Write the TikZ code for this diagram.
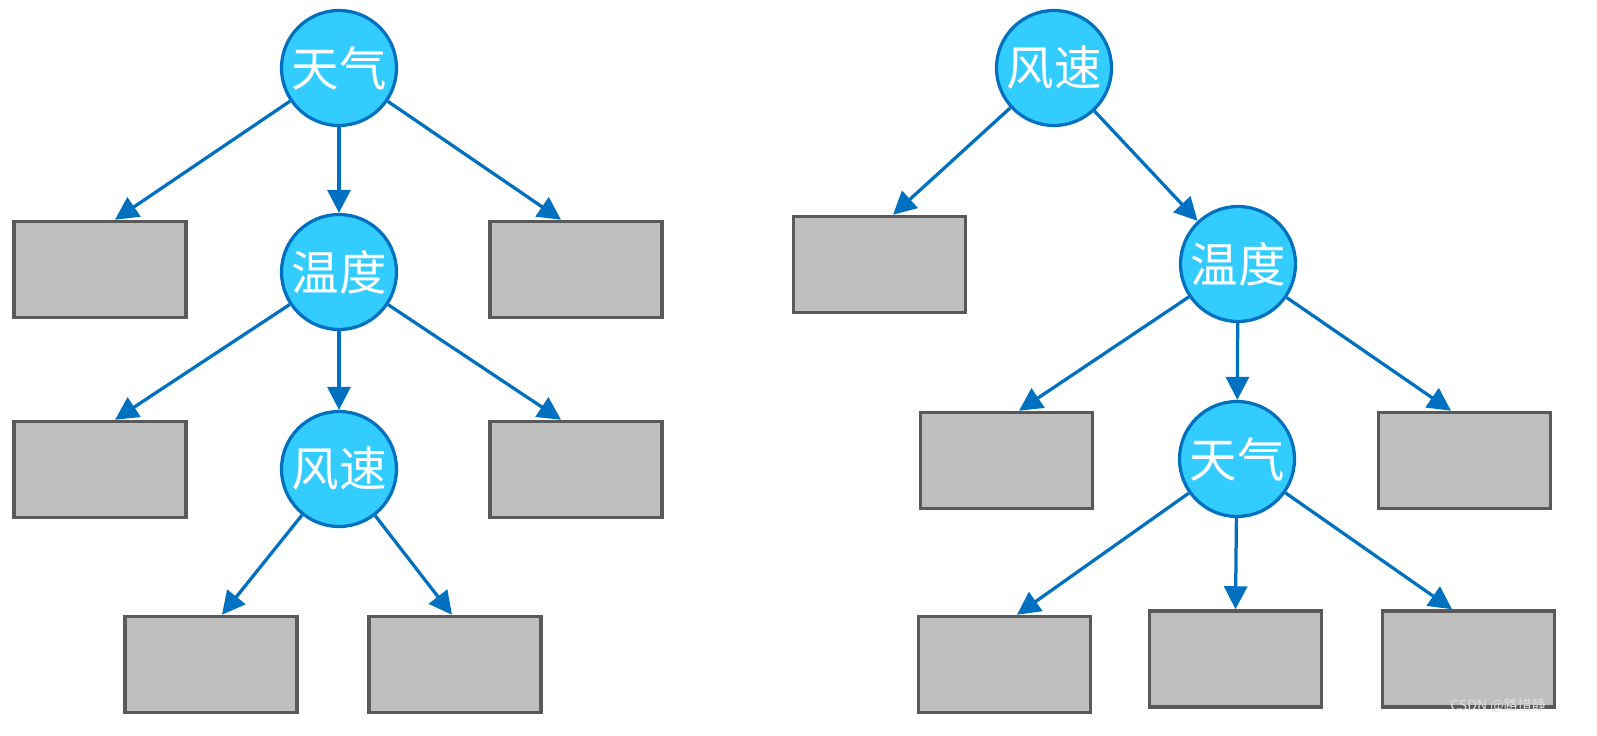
\documentclass[tikz,border=0pt]{standalone}
\usepackage{fontspec}
\newfontfamily\cjk{Noto Sans CJK SC}
\usetikzlibrary{arrows.meta,calc}
\definecolor{nodeblue}{HTML}{33CCFF}
\definecolor{lineblue}{HTML}{0070C0}
\definecolor{boxgray}{HTML}{BFBFBF}
\definecolor{boxedge}{HTML}{595959}
\tikzset{
  attr/.style={circle,draw=lineblue,fill=nodeblue,line width=0.065cm,
    minimum size=2.3cm,inner sep=0pt,text=white,font=\cjk\fontsize{27}{27}\selectfont},
  leaf/.style={rectangle,draw=boxedge,fill=boxgray,line width=0.07cm,
    minimum width=3.44cm,minimum height=1.92cm},
  branch/.style={draw=lineblue,line width=0.065cm,-{Triangle[length=0.46cm,width=0.46cm]}}
}
\begin{document}
\begin{tikzpicture}[x=0.02cm,y=-0.02cm]
\useasboundingbox (0,0) rectangle (1597,736);
% left tree
\node[attr] (tq) at (339,68) {天气};
\node[attr] (wd) at (339,272) {温度};
\node[attr] (fs) at (339,469) {风速};
\node[leaf] (b1) at (100,269.5) {};
\node[leaf] (b2) at (576,269.5) {};
\node[leaf] (b3) at (100,469.5) {};
\node[leaf] (b4) at (576,469.5) {};
\node[leaf] (b5) at (211,664.5) {};
\node[leaf] (b6) at (455,664.5) {};
\draw[branch] (tq) -- ($(b1.north)+(15,0)$);
\draw[branch] (tq) -- (wd);
\draw[branch] (tq) -- ($(b2.north)+(-15,0)$);
\draw[branch] (wd) -- ($(b3.north)+(15,0)$);
\draw[branch] (wd) -- (fs);
\draw[branch] (wd) -- ($(b4.north)+(-15,0)$);
\draw[branch] (fs) -- ($(b5.north)+(11,0)$);
\draw[branch] (fs) -- ($(b6.north)+(-3,0)$);
% right tree
\node[attr] (rfs) at (1054,68) {风速};
\node[attr] (rwd) at (1238,264) {温度};
\node[attr] (rtq) at (1237,459) {天气};
\node[leaf] (r1) at (879.5,264.5) {};
\node[leaf] (r2) at (1006.5,460.5) {};
\node[leaf] (r3) at (1464.5,460.5) {};
\node[leaf] (r4) at (1004.5,664.5) {};
\node[leaf] (r5) at (1235.5,659) {};
\node[leaf] (r6) at (1468.5,659) {};
\draw[branch] (rfs) -- ($(r1.north)+(13.5,0)$);
\draw[branch] (rfs) -- (rwd);
\draw[branch] (rwd) -- ($(r2.north)+(12.5,0)$);
\draw[branch] (rwd) -- (rtq);
\draw[branch] (rwd) -- ($(r3.north)+(-13.5,0)$);
\draw[branch] (rtq) -- ($(r4.north)+(12.5,0)$);
\draw[branch] (rtq) -- (r5.north);
\draw[branch] (rtq) -- ($(r6.north)+(-16.5,0)$);
\node[text=white!75!gray,font=\cjk\fontsize{8}{8}\selectfont,anchor=east] (mark) at (1552,706) {CSDN @路惜静};
\end{tikzpicture}
\end{document}
